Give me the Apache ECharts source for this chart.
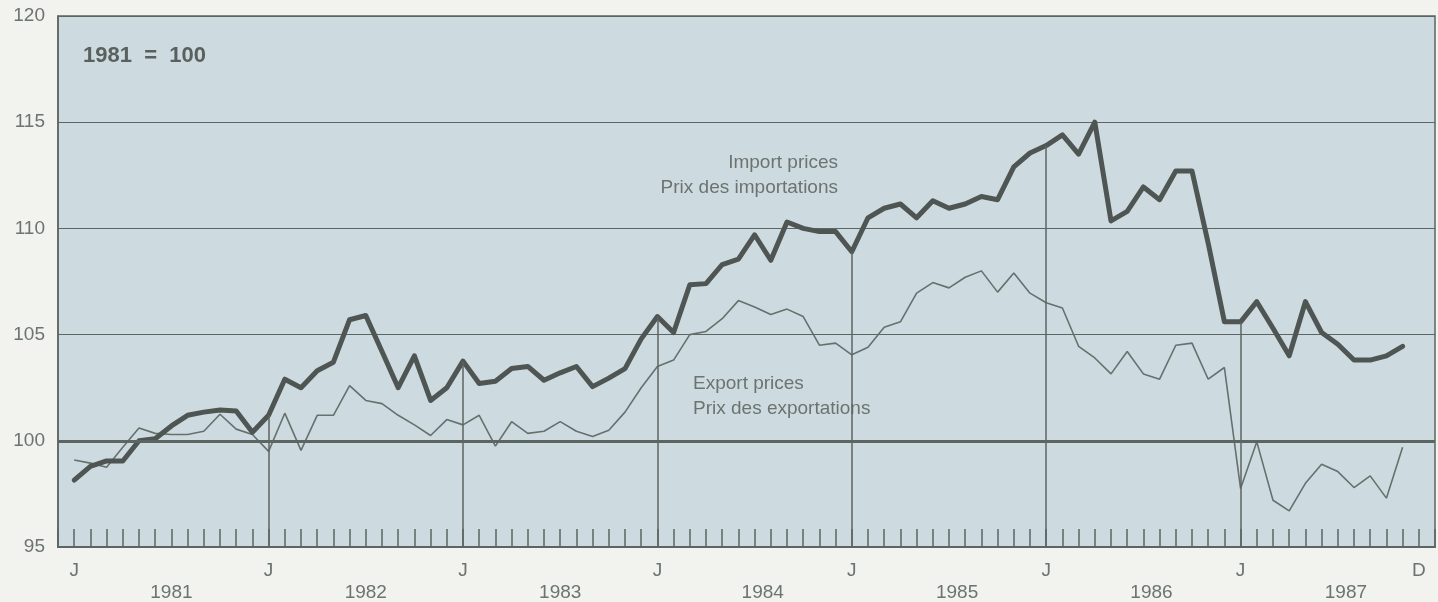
<!DOCTYPE html>
<html>
<head>
<meta charset="utf-8">
<script src="https://cdn.jsdelivr.net/npm/echarts@6/dist/echarts.min.js"></script>
<style>
html, body { margin: 0; padding: 0; background: #f2f2ee; }
#chart { width: 1438px; height: 602px; }
</style>
</head>
<body>
<div id="chart"></div>
<script>
// monthly index, 1981 = 100, Jan 1981 .. Nov 1987
var importPrices = [
	98.15, 98.8, 99.05, 99.05, 100.0, 100.1, 100.7, 101.2, 101.35, 101.45, 101.4, 100.4,
	101.2, 102.9, 102.5, 103.3, 103.7, 105.7, 105.9, 104.2, 102.5, 104.0, 101.9, 102.5,
	103.75, 102.7, 102.8, 103.4, 103.5, 102.85, 103.2, 103.5, 102.55, 102.95, 103.4, 104.8,
	105.85, 105.1, 107.35, 107.4, 108.3, 108.55, 109.7, 108.5, 110.3, 110.0, 109.85, 109.85,
	108.9, 110.5, 110.95, 111.15, 110.5, 111.3, 110.95, 111.15, 111.5, 111.35, 112.9, 113.55,
	113.9, 114.4, 113.5, 115.0, 110.35, 110.8, 111.95, 111.35, 112.7, 112.7, 109.3, 105.6,
	105.6, 106.55, 105.3, 104.0, 106.55, 105.1, 104.55, 103.8, 103.8, 104.0, 104.45
];
var exportPrices = [
	99.1, 98.95, 98.75, 99.7, 100.6, 100.35, 100.3, 100.3, 100.45, 101.25, 100.55, 100.3,
	99.5, 101.3, 99.55, 101.2, 101.2, 102.6, 101.9, 101.75, 101.2, 100.75, 100.25, 101.0,
	100.75, 101.2, 99.75, 100.9, 100.35, 100.45, 100.9, 100.45, 100.2, 100.5, 101.35, 102.5,
	103.5, 103.8, 105.0, 105.15, 105.75, 106.6, 106.3, 105.95, 106.2, 105.85, 104.5, 104.6,
	104.05, 104.4, 105.35, 105.6, 106.95, 107.45, 107.2, 107.7, 108.0, 107.0, 107.9, 106.95,
	106.5, 106.25, 104.45, 103.9, 103.15, 104.2, 103.15, 102.9, 104.5, 104.6, 102.9, 103.45,
	97.75, 99.95, 97.2, 96.7, 98.0, 98.9, 98.55, 97.8, 98.35, 97.3, 99.7
];
var tickLabelAt = [0, 12, 24, 36, 48, 60, 72, 83];
var tickLabels = ['J', 'J', 'J', 'J', 'J', 'J', 'J', 'D'];
var years = ['1981', '1982', '1983', '1984', '1985', '1986', '1987'];
var baseValue = 100;

var lineColor = '#5c6561';
var textColor = '#6c7370';
var plotBg = '#cddbe0';
var font = 'Liberation Sans';

// where the year names sit under the axis (in months)
var yearLabelAt = [6, 18, 30, 42.5, 54.5, 66.5, 78.5];

function pairs(arr) {
	return arr.map(function (v, i) { return [i, v]; });
}

function near(a, b) { return Math.abs(a - b) < 1e-6; }

// January drop lines from the import curve down to the axis
var refLines = [];
for (var k = 1; k < years.length; k++) {
	var m = 12 * k;
	refLines.push([{ coord: [m, importPrices[m]] }, { coord: [m, 95] }]);
}
refLines.push({ yAxis: baseValue, lineStyle: { width: 3 } });

var dom = document.getElementById('chart');
var myChart = echarts.init(dom);

var option = {
	animation: false,
	grid: {
		left: 58, right: 2, top: 16, bottom: 54,
		show: true,
		backgroundColor: plotBg,
		borderColor: lineColor,
		borderWidth: 1.5
	},
	xAxis: [{
		type: 'value',
		min: -1, max: 84, interval: 1,
		axisLine: { show: true, onZero: false, lineStyle: { color: lineColor, width: 2 } },
		axisTick: { show: true, inside: true, length: 18, lineStyle: { color: lineColor, width: 1.5 } },
		splitLine: { show: false },
		axisLabel: {
			margin: 14, color: textColor, fontSize: 19, fontFamily: font,
			formatter: function (v) {
				for (var i = 0; i < tickLabelAt.length; i++) {
					if (near(v, tickLabelAt[i])) return tickLabels[i];
				}
				return '';
			}
		}
	}, {
		type: 'value',
		position: 'bottom',
		min: -1, max: 84, interval: 0.5,
		axisLine: { show: false, onZero: false },
		axisTick: { show: false },
		splitLine: { show: false },
		axisLabel: {
			margin: 36, color: textColor, fontSize: 19, fontFamily: font,
			formatter: function (v) {
				for (var i = 0; i < yearLabelAt.length; i++) {
					if (near(v, yearLabelAt[i])) return years[i];
				}
				return '';
			}
		}
	}],
	yAxis: {
		type: 'value',
		min: 95, max: 120, interval: 5,
		axisLine: { show: true, onZero: false, lineStyle: { color: lineColor, width: 1.5 } },
		axisTick: { show: false },
		splitLine: { show: true, lineStyle: { color: lineColor, width: 1.2 } },
		axisLabel: { margin: 13, color: textColor, fontSize: 19, fontFamily: font, padding: [6, 0, 0, 0] }
	},
	series: [{
		name: 'refs',
		type: 'line',
		data: [],
		z: 1,
		markLine: {
			silent: true,
			symbol: 'none',
			label: { show: false },
			lineStyle: { color: lineColor, width: 1.5, type: 'solid' },
			data: refLines
		}
	}, {
		name: 'Export prices',
		type: 'line',
		data: pairs(exportPrices),
		showSymbol: false,
		z: 3,
		lineStyle: { color: '#66706c', width: 1.6 }
	}, {
		name: 'Import prices',
		type: 'line',
		data: pairs(importPrices),
		showSymbol: false,
		z: 4,
		lineStyle: { color: '#4e5553', width: 5, join: 'round', cap: 'round' }
	}],
	graphic: [{
		type: 'text',
		x: 83, y: 45,
		style: { text: '1981  =  100', fontSize: 22, fontWeight: 'bold', fontFamily: font, fill: '#5a605d' }
	}, {
		type: 'text',
		x: 838, y: 150,
		style: {
			text: 'Import prices\nPrix des importations',
			align: 'right', verticalAlign: 'top',
			fontSize: 19, lineHeight: 25, fontFamily: font, fill: textColor
		}
	}, {
		type: 'text',
		x: 689, y: 361,
		z: 2,
		style: {
			text: 'Export prices\nPrix des exportations',
			align: 'left', verticalAlign: 'top',
			fontSize: 19, lineHeight: 25, fontFamily: font, fill: textColor,
			backgroundColor: plotBg, padding: [10, 6, 12, 4]
		}
	}]
};
myChart.setOption(option, true);
</script>
</body>
</html>
